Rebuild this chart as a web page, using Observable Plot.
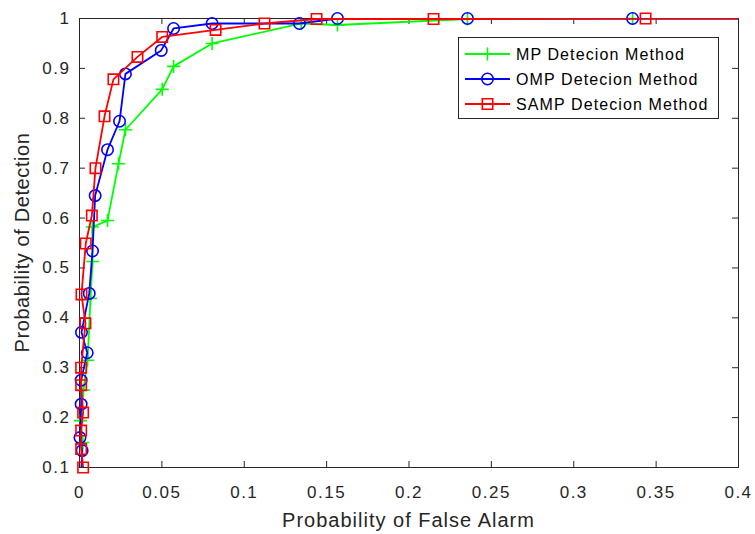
<!DOCTYPE html>
<html><head><meta charset="utf-8">
<script src="https://cdn.jsdelivr.net/npm/d3@7"></script>
<script src="https://cdn.jsdelivr.net/npm/@observablehq/plot@0.6"></script>
<style>html,body{margin:0;padding:0;background:#fff;} #chart{width:755px;height:534px;}</style>
</head><body><div id="chart"></div>
<script>
// ---- data ----
const xTicks = [0, 0.05, 0.1, 0.15, 0.2, 0.25, 0.3, 0.35, 0.4];
const yTicks = [0.1, 0.2, 0.3, 0.4, 0.5, 0.6, 0.7, 0.8, 0.9, 1];
const xLabel = "Probability of False Alarm";
const yLabel = "Probability of Detection";
const seriesNames = ["MP Detecion Method", "OMP Detecion Method", "SAMP Detecion Method"];
const seriesColors = ["#00ff00", "#0000ff", "#ff0000"];

const mpFA = [0, 0.002, 0.0006, 0.0024, 0.0049, 0.0067, 0.0079, 0.0078, 0.017, 0.0237, 0.0279, 0.0502, 0.0571, 0.0805, 0.1346, 0.1566, 0.2355, 0.3357, 1];
const mpPD = [0, 0.15, 0.194, 0.255, 0.315, 0.439, 0.513, 0.582, 0.595, 0.709, 0.777, 0.858, 0.904, 0.95, 0.99, 0.987, 0.999, 1.0, 1];

const ompFA = [0, 0.0016, 0.0003, 0.001, 0.001, 0.0047, 0.0012, 0.0059, 0.0079, 0.0095, 0.017, 0.0243, 0.0279, 0.0496, 0.0571, 0.0805, 0.1335, 0.1566, 0.2355, 0.3357, 1];
const ompPD = [0, 0.134, 0.16, 0.227, 0.275, 0.33, 0.371, 0.449, 0.534, 0.645, 0.737, 0.794, 0.889, 0.936, 0.98, 0.99, 0.99, 1.0, 1.0, 1.0, 1];

const sampFA = [0, 0.0022, 0.001, 0.001, 0.0022, 0.001, 0.001, 0.0036, 0.0012, 0.0038, 0.0075, 0.0097, 0.0152, 0.0206, 0.0352, 0.0502, 0.0826, 0.1123, 0.1439, 0.2149, 0.3436, 1];
const sampPD = [0, 0.10, 0.137, 0.174, 0.21, 0.265, 0.30, 0.389, 0.447, 0.549, 0.605, 0.70, 0.804, 0.878, 0.923, 0.963, 0.977, 0.99, 0.999, 0.999, 1.0, 1];

// ---- symbols ----
const plusSym = {draw(ctx, size) { const r = Math.sqrt(size / Math.PI); ctx.moveTo(-r, 0); ctx.lineTo(r, 0); ctx.moveTo(0, -r); ctx.lineTo(0, r); }};
const squareSym = {draw(ctx, size) { const r = Math.sqrt(size / Math.PI); ctx.rect(-r, -r, 2 * r, 2 * r); }};
const circleSym = {draw(ctx, size) { const r = Math.sqrt(size / Math.PI); ctx.moveTo(r, 0); ctx.arc(0, 0, r, 0, 2 * Math.PI); }};
const seriesSymbols = [plusSym, circleSym, squareSym];
const seriesR = [6.5, 5.7, 5.2];

const W = 755, H = 534, mL = 79, mR = 17, mT = 18, mB = 67;
const innerW = W - mL - mR, innerH = H - mT - mB;
const axisColor = "#262626";

const rowsOf = (fa, pd) => fa.map((x, i) => ({x, y: pd[i]}));
const series = [rowsOf(mpFA, mpPD), rowsOf(ompFA, ompPD), rowsOf(sampFA, sampPD)];
const inDomain = d => d.x >= 0 && d.x <= 0.4 && d.y >= 0.1 && d.y <= 1;

const marks = [
  Plot.frame({stroke: axisColor, strokeWidth: 1}),
  Plot.ruleX(xTicks, {x: d => d, insetTop: innerH - 6, stroke: axisColor}),
  Plot.ruleX(xTicks, {x: d => d, insetBottom: innerH - 6, stroke: axisColor}),
  Plot.ruleY(yTicks, {y: d => d, insetLeft: innerW - 6, stroke: axisColor}),
  Plot.ruleY(yTicks, {y: d => d, insetRight: innerW - 6, stroke: axisColor})
];
series.forEach((rows, i) => {
  marks.push(Plot.line(rows, {x: "x", y: "y", stroke: seriesColors[i], strokeWidth: 1.8, clip: true}));
  marks.push(Plot.dot(rows.filter(inDomain), {x: "x", y: "y", symbol: seriesSymbols[i], r: seriesR[i], stroke: seriesColors[i], strokeWidth: 1.6, fill: "none"}));
});

const chart = Plot.plot({
  width: W, height: H,
  marginLeft: mL, marginRight: mR, marginTop: mT, marginBottom: mB,
  style: {fontFamily: "'Liberation Sans', Arial, sans-serif", fontSize: "17px", color: axisColor, background: "#fff", overflow: "visible"},
  x: {domain: [0, 0.4], ticks: xTicks, tickSize: 0, tickPadding: 18, tickFormat: d => String(d), label: null},
  y: {domain: [0.1, 1], ticks: yTicks, tickSize: 0, tickPadding: 9, tickFormat: d => String(d), label: null},
  marks
});
document.getElementById("chart").appendChild(chart);

const svg = d3.select(chart);
svg.selectAll("text").style("letter-spacing", "1.5px").style("font-size", "17px");

svg.append("text").attr("x", mL + innerW / 2).attr("y", 527).attr("text-anchor", "middle")
  .attr("fill", axisColor).style("font-size", "20px").style("letter-spacing", "1px").text(xLabel);
svg.append("text").attr("transform", `translate(29,${mT + innerH / 2}) rotate(-90)`).attr("text-anchor", "middle")
  .attr("fill", axisColor).style("font-size", "20px").style("letter-spacing", "0.6px").text(yLabel);

// legend
const lg = svg.append("g").attr("font-family", "'Liberation Sans', Arial, sans-serif").attr("text-anchor", "start");
lg.append("rect").attr("x", 458.5).attr("y", 37.5).attr("width", 260).attr("height", 81)
  .attr("fill", "#fff").attr("stroke", axisColor).attr("stroke-width", 1);
const rowY = [54, 79, 104];
seriesNames.forEach((name, i) => {
  const y = rowY[i];
  lg.append("line").attr("x1", 465).attr("x2", 510).attr("y1", y).attr("y2", y)
    .attr("stroke", seriesColors[i]).attr("stroke-width", 1.8);
  lg.append("path").attr("transform", `translate(487.5,${y})`)
    .attr("d", d3.symbol(seriesSymbols[i], seriesR[i] * seriesR[i] * Math.PI)())
    .attr("fill", "none").attr("stroke", seriesColors[i]).attr("stroke-width", 1.6);
  lg.append("text").attr("x", 516).attr("y", y).attr("dy", "0.35em").attr("text-anchor", "start").attr("fill", "#000")
    .style("font-size", "16px").style("letter-spacing", "1.1px").text(name);
});
</script>
</body></html>
